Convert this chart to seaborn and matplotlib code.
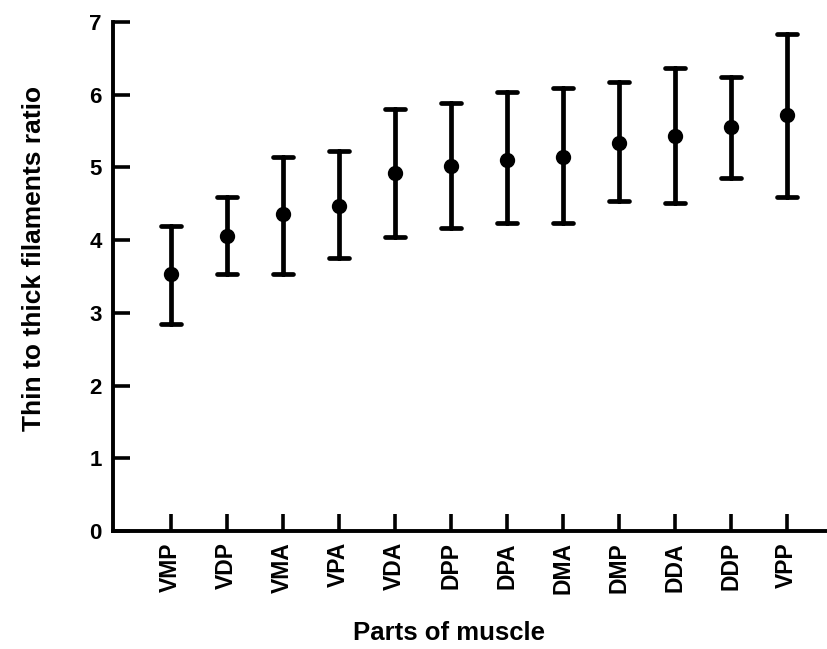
import pandas as pd
import matplotlib.pyplot as plt
import seaborn as sns

parts = ['VMP', 'VDP', 'VMA', 'VPA', 'VDA', 'DPP', 'DPA', 'DMA', 'DMP', 'DDA', 'DDP', 'VPP']
ratio_mean = [3.53, 4.06, 4.36, 4.47, 4.93, 5.02, 5.10, 5.15, 5.34, 5.43, 5.56, 5.72]
ratio_low = [2.84, 3.53, 3.54, 3.75, 4.05, 4.17, 4.24, 4.23, 4.54, 4.51, 4.86, 4.60]
ratio_high = [4.20, 4.60, 5.15, 5.22, 5.81, 5.89, 6.04, 6.09, 6.18, 6.37, 6.25, 6.83]

# long table: median of (low, mean, high) is the mean, 100% interval gives the bar ends
rows = []
for p, lo, m, hi in zip(parts, ratio_low, ratio_mean, ratio_high):
    for v in (lo, m, hi):
        rows.append({'part': p, 'ratio': v})
df = pd.DataFrame(rows)

sns.set_style('white')
plt.rcParams['font.family'] = ['Liberation Sans', 'DejaVu Sans']
plt.rcParams['font.weight'] = 'bold'
plt.rcParams['text.color'] = 'black'

fig = plt.figure(figsize=(8.27, 6.49), dpi=100)
ax = fig.add_axes([113 / 827, 118 / 649, 1 - 113 / 827, 509 / 649])

sns.pointplot(data=df, x='part', y='ratio', order=parts, estimator='median',
              errorbar=('pi', 100), linestyle='none', marker='o', markersize=9,
              color='black', capsize=0.36, err_kws={'linewidth': 3.4}, ax=ax)

ax.set_ylim(0, 7)
ax.set_xlim(-1.03, 11.72)
ax.set_yticks(range(8))

for s in ['top', 'right']:
    ax.spines[s].set_visible(False)
for s in ['left', 'bottom']:
    ax.spines[s].set_linewidth(2.8)
    ax.spines[s].set_color('black')

ax.tick_params(axis='y', left=True, direction='in', length=12, width=2.6, labelsize=16,
               pad=8, colors='black')
ax.tick_params(axis='x', bottom=True, direction='in', length=12, width=2.6, labelsize=16.5,
               pad=8, labelrotation=90, colors='black')
for lab in ax.get_xticklabels() + ax.get_yticklabels():
    lab.set_fontweight('bold')

ax.set_xlabel('')
ax.set_ylabel('')
fig.text(449 / 827, 1 - 633 / 649, 'Parts of muscle', ha='center', va='center',
         fontsize=18.5, fontweight='bold')
fig.text(34 / 827, 1 - 258 / 649, 'Thin to thick filaments ratio', ha='center',
         va='center', rotation=90, fontsize=19, fontweight='bold')

fig.savefig('out.png', dpi=100, facecolor='white')
